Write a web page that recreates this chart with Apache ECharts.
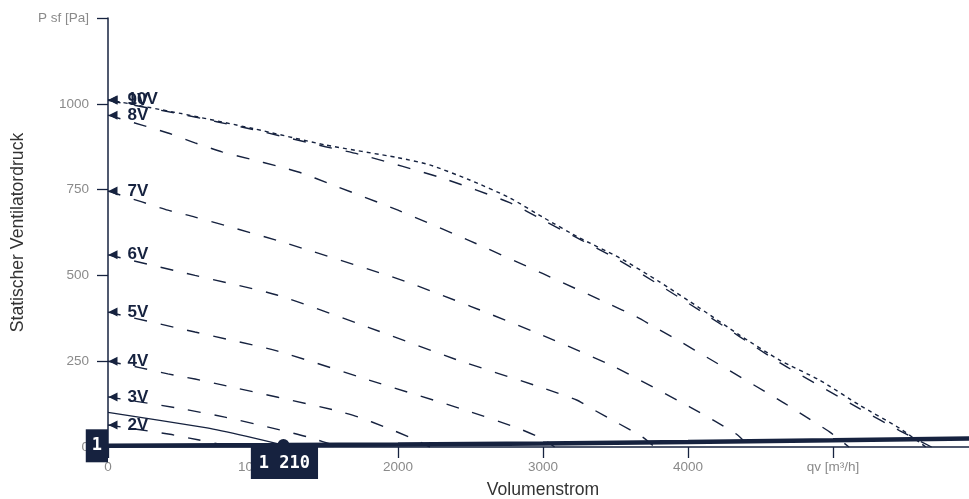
<!DOCTYPE html>
<html>
<head>
<meta charset="utf-8">
<script src="https://cdn.jsdelivr.net/npm/echarts@6/dist/echarts.min.js"></script>
<style>
  html, body { margin: 0; padding: 0; background: #ffffff; }
  #chart { width: 969px; height: 499px; }
</style>
</head>
<body>
<div id="chart"></div>
<script>
// Fan characteristic curves per control voltage: [volume flow m³/h, static pressure Pa]
const curve2V  = [[0,64],[427,37],[620,21],[772,8],[850,0]];
const curve3V  = [[0,146],[500,112],[806,87],[1185,50],[1371,30],[1600,0]];
const curve4V  = [[0,250],[234,230],[413,213],[600,198],[786,181],[1557,108],[1730,87],[1910,58],[2095,26],[2220,0]];
const curve5V  = [[0,393],[600,335],[1165,280],[1800,195],[2460,108],[2826,55],[3000,23],[3080,0]];
const curve6V  = [[0,560],[600,500],[1165,443],[1800,348],[2400,255],[3000,172],[3232,137],[3343,110],[3515,70],[3687,29],[3770,0]];
const curve7V  = [[0,746],[234,714],[413,690],[600,670],[1165,602],[2000,490],[2500,410],[3000,325],[3494,233],[4011,117],[4183,76],[4342,35],[4425,0]];
const curve8V  = [[0,967],[234,938],[413,915],[600,886],[786,860],[979,839],[1165,819],[1337,798],[1516,769],[2000,690],[2500,600],[3000,505],[3439,420],[3646,379],[3804,341],[3963,303],[4128,262],[4652,131],[4817,87],[4976,44],[5110,0]];
const curve9V  = [[0,1010],[500,970],[1000,925],[1500,875],[1750,851],[2302,784],[2770,712],[3005,660],[3529,543],[4080,398],[4632,246],[5183,112],[5458,48],[5680,0]];
const curve10V = [[0,1012],[500,972],[1000,928],[1500,880],[2000,843],[2219,822],[2495,778],[2770,726],[3005,668],[3253,609],[3529,551],[3804,481],[4080,405],[4356,326],[4632,253],[4907,195],[5183,122],[5458,55],[5640,0]];

const voltageNames  = ['2V','3V','4V','5V','6V','7V','8V','9V','10V'];
const voltageCurves = [curve2V, curve3V, curve4V, curve5V, curve6V, curve7V, curve8V, curve9V, curve10V];

// Operating curve and system curve
const operatingCurve = [[0,101],[683,56],[950,32],[1210,5.5]];
const systemCurve    = [[0,3.5],[1210,5.5],[2000,7.5],[3000,10.5],[4000,14.5],[5000,19.5],[6000,25]];
const systemName     = '1';
const operatingPoint = [1210, 5.5];
const operatingPointLabel = '1 210';

// Axis tick labels that carry the unit names
const xUnitLabel = 'qv [m³/h]';
const yUnitLabel = 'P sf [Pa]';

const navy = '#16223f';
const monoBox = {
  color: '#ffffff',
  backgroundColor: navy,
  fontFamily: 'DejaVu Sans Mono',
  fontWeight: 'bold',
  fontSize: 17,
  lineHeight: 18
};

const series = [];

voltageCurves.forEach((curve, i) => {
  const name = voltageNames[i];
  series.push({
    name: name,
    type: 'line',
    data: curve,
    symbol: 'none',
    smooth: 0.2,
    silent: true,
    lineStyle: {
      color: navy,
      width: 1.4,
      type: name === '10V' ? [4, 4] : [13, 14]
    },
    z: 2
  });
});

// Start arrows with voltage labels
series.push({
  type: 'scatter',
  silent: true,
  data: voltageCurves.map((c, i) => ({ value: c[0], name: voltageNames[i] })),
  symbol: 'path://M0,5 L10,0 L10,10 Z',
  symbolSize: [9, 9],
  symbolOffset: [5, 0],
  itemStyle: { color: navy, opacity: 1 },
  label: {
    show: true,
    position: 'right',
    distance: 10,
    formatter: p => p.name,
    color: navy,
    fontFamily: 'Liberation Sans',
    fontWeight: 'bold',
    fontSize: 17
  },
  z: 4
});

series.push({
  type: 'line',
  data: operatingCurve,
  symbol: 'none',
  smooth: 0.2,
  silent: true,
  lineStyle: { color: navy, width: 1.3, type: 'solid' },
  z: 3
});

series.push({
  type: 'line',
  data: systemCurve,
  symbol: 'none',
  silent: true,
  lineStyle: { color: navy, width: 4.5 },
  z: 5
});

// Curve name box at the start of the system curve
series.push({
  type: 'scatter',
  silent: true,
  data: [{ value: systemCurve[0], name: systemName }],
  symbolSize: 0,
  itemStyle: { opacity: 1 },
  label: Object.assign({
    show: true,
    position: 'left',
    distance: 0,
    formatter: p => p.name,
    padding: [8, 6, 7, 6]
  }, monoBox),
  z: 7
});

// Operating point
series.push({
  type: 'scatter',
  silent: true,
  data: [{ value: operatingPoint, name: operatingPointLabel }],
  symbol: 'circle',
  symbolSize: 12,
  itemStyle: { color: navy, opacity: 1 },
  label: Object.assign({
    show: true,
    position: 'bottom',
    distance: 0,
    offset: [1, -4],
    formatter: p => p.name,
    padding: [7, 8, 7, 8]
  }, monoBox),
  z: 6
});

const chart = echarts.init(document.getElementById('chart'), null, { renderer: 'canvas' });
chart.setOption({
  animation: false,
  backgroundColor: '#ffffff',
  grid: { left: 108, right: -9, top: 18, bottom: 52, containLabel: false, outerBoundsMode: 'none' },
  xAxis: {
    type: 'value',
    min: 0,
    max: 6000,
    interval: 1000,
    name: 'Volumenstrom',
    nameLocation: 'middle',
    nameGap: 34,
    nameTextStyle: { color: '#333333', fontSize: 17.6, fontFamily: 'Liberation Sans' },
    axisLine: { show: true, onZero: false, lineStyle: { color: navy, width: 1.5 } },
    axisTick: { show: true, length: 11, lineStyle: { color: navy, width: 1.3 } },
    axisLabel: {
      color: '#8a8a8a',
      fontSize: 13.5,
      fontFamily: 'Liberation Sans',
      margin: 13,
      formatter: v => v === 5000 ? xUnitLabel : (v === 6000 ? '' : String(v))
    },
    splitLine: { show: false }
  },
  yAxis: {
    type: 'value',
    min: 0,
    max: 1250,
    interval: 250,
    name: 'Statischer Ventilatordruck',
    nameLocation: 'middle',
    nameGap: 81,
    nameTextStyle: { color: '#333333', fontSize: 17.6, fontFamily: 'Liberation Sans' },
    axisLine: { show: true, lineStyle: { color: navy, width: 1.5 } },
    axisTick: { show: true, length: 11, lineStyle: { color: navy, width: 1.3 } },
    axisLabel: {
      color: '#8a8a8a',
      fontSize: 13.5,
      fontFamily: 'Liberation Sans',
      margin: 19,
      formatter: v => v === 1250 ? yUnitLabel : String(v)
    },
    splitLine: { show: false }
  },
  series: series
});
</script>
</body>
</html>
